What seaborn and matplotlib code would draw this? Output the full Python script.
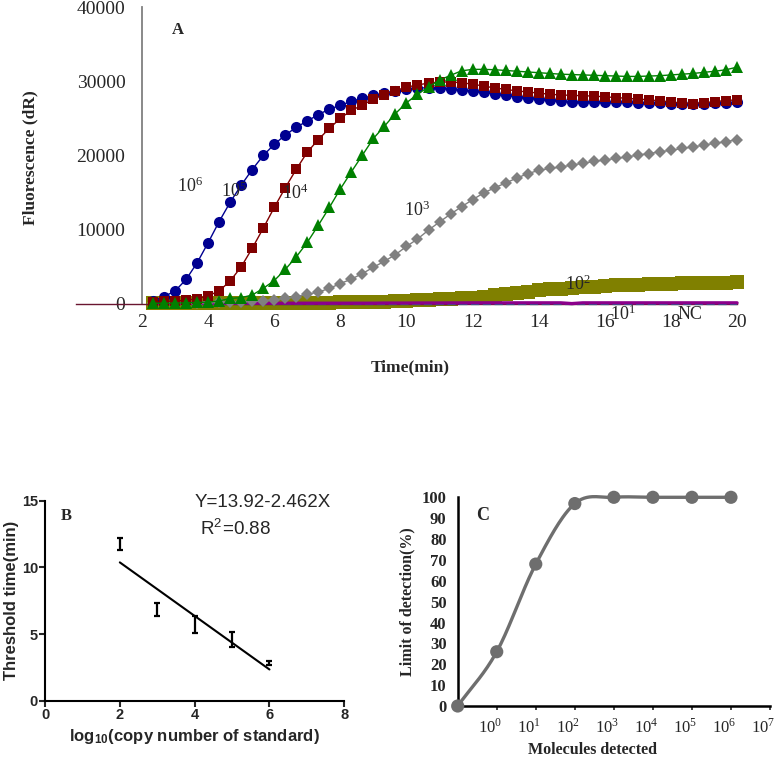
import numpy as np
import matplotlib
matplotlib.use('Agg')
import matplotlib.pyplot as plt
import matplotlib.transforms as mtransforms
import seaborn as sns

# ---------------- Panel A: real-time amplification curves ----------------
# one fluorescence read every 20 s, from 2.33 min to 20 min
read_times = np.round(7 / 3 + np.arange(54) / 3, 3)

curve_1e6 = [400, 1000, 1750, 3300, 5550, 8250, 11100, 13700, 16000, 18100,
             20000, 21500, 22750, 23800, 24650, 25500, 26250, 26750, 27300, 27700,
             28100, 28400, 28700, 28900, 29050, 29150, 29100, 29000, 28850, 28700,
             28500, 28300, 28100, 27900, 27750, 27600, 27450, 27350, 27250, 27200,
             27200, 27200, 27150, 27150, 27100, 27100, 27050, 27000, 27000, 27000,
             27000, 27050, 27100, 27200]
curve_1e5 = [300, 350, 400, 500, 700, 1100, 1750, 3100, 5000, 7500,
             10200, 13000, 15650, 18150, 20450, 22150, 23650, 25000, 26100, 26750,
             27650, 28200, 28750, 29200, 29500, 29750, 29900, 29900, 29800, 29600,
             29350, 29100, 28900, 28700, 28550, 28400, 28250, 28150, 28100, 28050,
             28000, 27900, 27800, 27700, 27600, 27500, 27350, 27200, 27050, 27000,
             27100, 27250, 27400, 27500]
curve_1e4 = [100, 100, 120, 150, 200, 250, 400, 750, 850, 1200,
             2100, 3150, 4650, 6350, 8300, 10600, 13000, 15500, 17800, 20050,
             22300, 23950, 25650, 27100, 28250, 29250, 30150, 30800, 31400, 31600,
             31600, 31550, 31450, 31350, 31250, 31150, 31050, 30950, 30900, 30850,
             30800, 30750, 30700, 30650, 30650, 30700, 30750, 30850, 30950, 31050,
             31200, 31350, 31550, 31900]
curve_1e3 = [100, 100, 100, 150, 150, 200, 200, 250, 300, 350,
             450, 550, 750, 1000, 1300, 1600, 2100, 2750, 3350, 4100,
             4950, 5750, 6650, 7750, 8750, 9950, 11050, 12100, 13100, 14050,
             14950, 15650, 16300, 16950, 17550, 18000, 18250, 18450, 18700, 18950,
             19200, 19400, 19600, 19800, 20050, 20250, 20500, 20700, 20950, 21150,
             21400, 21650, 21850, 22150]
curve_1e2 = [80, 80, 80, 80, 80, 80, 80, 90, 90, 100,
             100, 110, 120, 130, 140, 160, 180, 200, 230, 260,
             290, 330, 380, 440, 500, 560, 630, 700, 780, 870,
             1000, 1150, 1300, 1480, 1660, 1850, 1950, 2050, 2150, 2250,
             2350, 2450, 2500, 2550, 2600, 2640, 2680, 2720, 2760, 2790,
             2820, 2850, 2880, 2920]
curve_1e1 = [100, 100, 100, 100, 100, 100, 100, 100, 100, 100,
             100, 100, 100, 100, 100, 100, 100, 100, 100, 100,
             100, 120, 120, 120, 130, 130, 130, 140, 140, 150,
             150, 150, 150, 150, 150, 150, 150, 150, 50, 150,
             150, 150, 150, 150, 150, 150, 150, 150, 150, 150,
             150, 150, 150, 150]
curve_nc = [-30, -30, -30, -30, -30, -30, -30, -30, -30, -30,
            -30, -30, -30, -30, -30, -30, -30, -30, -30, -30,
            -30, -30, -30, -30, -30, -30, -30, -30, -30, -30,
            -30, -30, -30, -30, -30, -30, -30, -30, -30, -30,
            -30, -30, -30, -30, -30, -30, -30, -30, -30, -30,
            -30, -30, -30, -30]

# ---------------- Panel B: standard curve ----------------
log_copies = [2, 3, 4, 5, 6]
threshold_mean = [11.75, 6.86, 5.74, 4.60, 2.84]
threshold_err = [0.45, 0.50, 0.64, 0.56, 0.16]

# ---------------- Panel C: limit of detection ----------------
lod_positions = [0, 1, 2, 3, 4, 5, 6, 7]
lod_percent = [0, 26, 68, 97, 100, 100, 100, 100]
lod_tick_labels = ['10$^\\mathregular{%d}$' % i for i in range(8)]


def catmull_rom(xs, ys, steps=30):
    """Smooth line through the points, like the spreadsheet 'smoothed line' option."""
    xs = np.asarray(xs, float)
    ys = np.asarray(ys, float)
    n = len(xs)
    m = np.zeros(n)
    m[1:-1] = (ys[2:] - ys[:-2]) / 2
    m[0] = ys[1] - ys[0]
    m[-1] = ys[-1] - ys[-2]
    out_x, out_y = [], []
    for i in range(n - 1):
        t = np.linspace(0, 1, steps)
        h00 = 2 * t**3 - 3 * t**2 + 1
        h10 = t**3 - 2 * t**2 + t
        h01 = -2 * t**3 + 3 * t**2
        h11 = t**3 - t**2
        out_x.extend(xs[i] + t * (xs[i + 1] - xs[i]))
        out_y.extend(h00 * ys[i] + h10 * m[i] + h01 * ys[i + 1] + h11 * m[i + 1])
    return np.array(out_x), np.array(out_y)


sns.set_style('white')
plt.rcParams['font.family'] = ['Liberation Serif', 'DejaVu Serif']
plt.rcParams['mathtext.fontset'] = 'stix'

W, H = 776, 757
fig = plt.figure(figsize=(W / 100, H / 100), dpi=100)


def px_axes(left, top, right, bottom):
    return fig.add_axes([left / W, 1 - bottom / H, (right - left) / W, (bottom - top) / H])


# ===================== Panel A =====================
axA = px_axes(75.9, 7, 750.3, 315.1)
axA.set_xlim(0, 20.4)
axA.set_ylim(-1500, 40000)

series_a = [
    (curve_1e2, '#808000', 's', 9.5, 2),
    (curve_nc, '#008b8b', None, 0, 3),
    (curve_1e1, '#8b008b', None, 0, 4),
    (curve_1e3, '#808080', 'D', 6.5, 5),
    (curve_1e6, '#000090', 'o', 8, 6),
    (curve_1e5, '#800000', 's', 7.5, 7),
    (curve_1e4, '#008000', '^', 8.5, 8),
]
for vals, col, mk, ms, z in series_a:
    if mk is None:
        ls = '--' if vals is curve_nc else '-'
        lw = 1.6 if vals is curve_nc else 2.4
        sns.lineplot(x=read_times, y=vals, ax=axA, color=col, linewidth=lw,
                     linestyle=ls, zorder=z)
    else:
        sns.lineplot(x=read_times, y=vals, ax=axA, color=col, marker=mk,
                     markersize=ms, markeredgewidth=0, linewidth=1, zorder=z)

for side in ['top', 'right']:
    axA.spines[side].set_visible(False)
axA.spines['left'].set_position(('data', 2))
axA.spines['left'].set_bounds(0, 40000)
axA.spines['left'].set_color('#808080')
axA.spines['left'].set_linewidth(1.3)
axA.spines['bottom'].set_position(('data', 0))
axA.spines['bottom'].set_bounds(0, 20)
axA.spines['bottom'].set_color('#6a1530')
axA.spines['bottom'].set_linewidth(1.0)
axA.set_xticks(range(2, 21, 2))
axA.set_yticks(range(0, 40001, 10000))
axA.tick_params(axis='x', direction='in', length=4, width=1, pad=7, labelsize=14)
axA.tick_params(axis='y', length=0, pad=12, labelsize=14)
axA.set_xlabel('')
axA.set_ylabel('')

curve_labels = ['10$^\\mathregular{6}$', '10$^\\mathregular{5}$', '10$^\\mathregular{4}$',
                '10$^\\mathregular{3}$', '10$^\\mathregular{2}$', '10$^\\mathregular{1}$', 'NC']
label_xy = [(3.45, 15900), (4.78, 15200), (6.63, 14950), (10.32, 12660),
            (15.19, 2690), (16.55, -1350), (18.58, -1480)]
for s, (lx, ly) in zip(curve_labels, label_xy):
    axA.text(lx, ly, s, fontsize=13, ha='center', va='center', zorder=10)
axA.text(3.09, 36900, 'A', fontsize=12, fontweight='bold', ha='center', va='center')

fig.text(30 / W, 1 - 157.5 / H, 'Fluorescence (dR)', rotation=90, fontsize=12.5,
         fontweight='bold', ha='center', va='center')
fig.text(410 / W, 1 - 367 / H, 'Time(min)', fontsize=12.5, fontweight='bold',
         ha='center', va='center')

# ===================== Panel B =====================
axB = px_axes(45, 500.7, 344.3, 700.7)
sans = ['Liberation Sans', 'DejaVu Sans']
axB.errorbar(log_copies, threshold_mean, yerr=threshold_err, fmt='none',
             ecolor='black', elinewidth=1.6, capsize=2.5, capthick=1.6)
sns.regplot(x=log_copies, y=threshold_mean, ax=axB, scatter=False, ci=None,
            truncate=True, line_kws=dict(color='black', linewidth=1.5))
axB.set_xlim(0, 8)
axB.set_ylim(0, 15)
axB.set_xticks([0, 2, 4, 6, 8])
axB.set_yticks([0, 5, 10, 15])
for side in ['top', 'right']:
    axB.spines[side].set_visible(False)
for side in ['left', 'bottom']:
    axB.spines[side].set_color('black')
    axB.spines[side].set_linewidth(1.5)
axB.tick_params(direction='out', length=4, width=1.5, pad=1, labelsize=10.5)
axB.tick_params(left=True, bottom=True)
for lab in axB.get_xticklabels() + axB.get_yticklabels():
    lab.set_family(sans)
    lab.set_fontweight('bold')
axB.set_xlabel('')
axB.set_ylabel('')
axB.text(0.0725, 0.925, 'B', transform=axB.transAxes, fontsize=12,
         fontweight='bold', ha='center', va='center')
axB.text(0.50, 0.989, 'Y=13.92-2.462X', transform=axB.transAxes, fontsize=13.5,
         family=sans, ha='left', va='center')
axB.text(0.518, 0.859, 'R$^\\mathregular{2}$=0.88', transform=axB.transAxes,
         fontsize=13.5, family=sans, ha='left', va='center')
fig.text(194.5 / W, 1 - 736.7 / H, 'log$_\\mathregular{10}$(copy number of standard)',
         fontsize=12, fontweight='bold', family=sans, ha='center', va='center')
fig.text(12 / W, 1 - 600 / H, 'Threshold time(min)', rotation=90, fontsize=12,
         fontweight='bold', family=sans, ha='center', va='center')

# ===================== Panel C =====================
axC = px_axes(457.7, 497.3, 770, 706)
sx, sy = catmull_rom(lod_positions, lod_percent)
sns.lineplot(x=sx, y=sy, ax=axC, color='#6e6e6e', linewidth=2.4, sort=False,
             clip_on=False, zorder=3)
sns.scatterplot(x=lod_positions, y=lod_percent, ax=axC, color='#6e6e6e', s=90,
                edgecolor='none', clip_on=False, zorder=4)
axC.set_xlim(0, 8)
axC.set_ylim(0, 100)
axC.set_xticks(range(1, 9))
axC.set_xticklabels(lod_tick_labels)
axC.set_yticks(range(0, 101, 10))
for side in ['top', 'right']:
    axC.spines[side].set_visible(False)
for side in ['left', 'bottom']:
    axC.spines[side].set_color('black')
    axC.spines[side].set_linewidth(1.8)
axC.tick_params(axis='x', direction='out', length=3, width=1.2, pad=6, labelsize=12,
                bottom=True)
axC.tick_params(axis='y', length=0, pad=8, labelsize=12)
shift = mtransforms.ScaledTranslation(-5 / 72, 0, fig.dpi_scale_trans)
for lab in axC.get_xticklabels():
    lab.set_transform(lab.get_transform() + shift)
for lab in axC.get_yticklabels():
    lab.set_fontweight('bold')
axC.set_xlabel('')
axC.set_ylabel('')
axC.text(0.648, 91.5, 'C', fontsize=13, fontweight='bold', ha='center', va='center')
fig.text(407 / W, 1 - 602 / H, 'Limit of detection(%)', rotation=90, fontsize=11.5,
         fontweight='bold', ha='center', va='center')
fig.text(592 / W, 1 - 750 / H, 'Molecules detected', fontsize=11.5,
         fontweight='bold', ha='center', va='center')

fig.savefig('out.png', dpi=100)
